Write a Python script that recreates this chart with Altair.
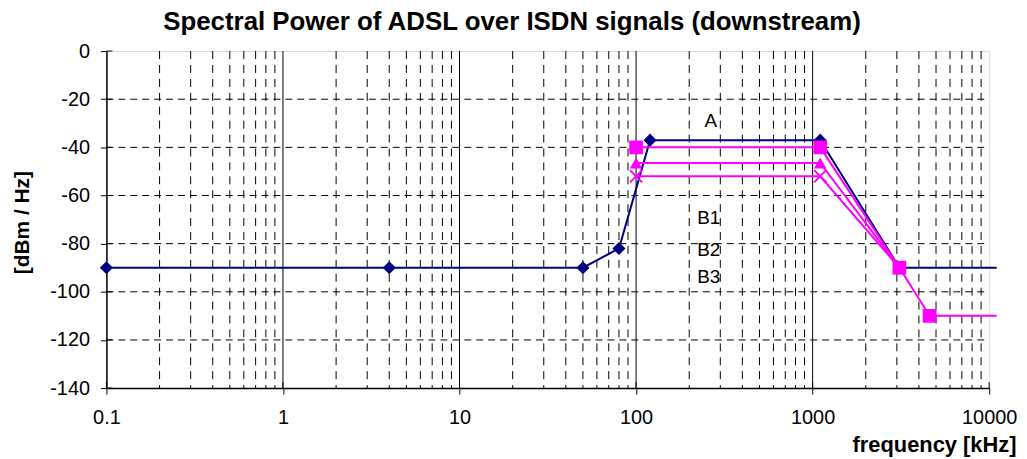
import altair as alt
import pandas as pd

# ---- data ----
freq_A = [0.1, 4, 50, 80, 120, 1104, 3100, 11040]
db_A = [-90, -90, -90, -82, -37, -37, -90, -90]
mark_A = [1, 1, 1, 1, 1, 1, 1, 0]

freq_B1 = [100, 1104, 3100, 4600, 11040]
db_B1 = [-40, -40, -90, -110, -110]
mark_B1 = [1, 1, 1, 1, 0]

freq_B2 = [100, 1104, 3100]
db_B2 = [-46.5, -46.5, -90]
mark_B2 = [1, 1, 1]

freq_B3 = [100, 1104, 3100]
db_B3 = [-52, -52, -90]
mark_B3 = [1, 1, 1]

label_text = ["A", "B1", "B2", "B3"]
label_f = [265, 258, 258, 258]
label_db = [-29, -69.5, -82.5, -94]

x_ticks = [0.1, 1, 10, 100, 1000, 10000]
y_ticks = [0, -20, -40, -60, -80, -100, -120, -140]
h_grid = [-20, -40, -60, -80, -100, -120]
minor_x = [m * 10 ** k for k in range(-1, 4) for m in range(2, 10)]

NAVY = "#000080"
MAG = "#FF00FF"
FONT = "Liberation Sans"
W, H = 888, 339

xs = alt.Scale(type="log", domain=[0.1, 10000], nice=False)
ys = alt.Scale(domain=[-140, 0], nice=False, zero=False)

xaxis = alt.Axis(
    values=x_ticks, labelExpr="'' + datum.value", grid=False, tickSize=6, tickColor="black",
    domainColor="black", domainWidth=1.5, labelFontSize=20, labelPadding=14,
    labelColor="black", labelFont=FONT, labelFlush=False, labelOverlap=False,
    title="frequency [kHz]", titleFont=FONT, titleFontSize=22, titleFontWeight="bold",
    titleAlign="right", titleX=915, titleY=64, titleBaseline="alphabetic",
    titleColor="black",
)
yaxis = alt.Axis(
    values=y_ticks, labelExpr="'' + datum.value", grid=False, tickSize=6, tickColor="black",
    domainColor="black", domainWidth=1.5, labelFontSize=20, labelPadding=11,
    labelColor="black", labelFont=FONT, labelFlush=False, labelOverlap=False,
    title="[dBm / Hz]", titleFont=FONT, titleFontSize=21, titleFontWeight="bold",
    titleX=-84, titleY=172, titleBaseline="middle", titleColor="black",
)

X = alt.X("f:Q", scale=xs, axis=xaxis)
Y = alt.Y("db:Q", scale=ys, axis=yaxis)


def df(f, d, m=None):
    t = pd.DataFrame({"f": f, "db": d})
    if m is not None:
        t["m"] = m
    return t


# grid
hgrid = alt.Chart(pd.DataFrame({"db": h_grid})).mark_rule(
    color="black", strokeWidth=1, strokeDash=[7, 5]
).encode(y=Y, x=alt.value(0), x2=alt.value(W))

vminor = alt.Chart(pd.DataFrame({"f": minor_x})).mark_rule(
    color="black", strokeWidth=1, strokeDash=[8, 6]
).encode(x=X, y=alt.value(0), y2=alt.value(H))

vmajor = alt.Chart(pd.DataFrame({"f": x_ticks[1:-1]})).mark_rule(
    color="black", strokeWidth=1
).encode(x=X, y=alt.value(0), y2=alt.value(H))

# inward tick parts
ytick_in = alt.Chart(pd.DataFrame({"db": y_ticks})).mark_rule(
    color="black", strokeWidth=1
).encode(y=Y, x=alt.value(0), x2=alt.value(6))
xtick_in = alt.Chart(pd.DataFrame({"f": x_ticks})).mark_rule(
    color="black", strokeWidth=1
).encode(x=X, y=alt.value(H), y2=alt.value(H - 6))


def series(f, d, m, color, shape, size, filled=True):
    data = df(f, d, m)
    line = alt.Chart(data).mark_line(color=color, strokeWidth=2).encode(x=X, y=Y)
    pts = alt.Chart(data).transform_filter("datum.m == 1").mark_point(
        shape=shape, size=size, filled=filled, color=color, opacity=1,
        strokeWidth=2,
    ).encode(x=X, y=Y)
    return [line, pts]


layers = [hgrid, vminor, vmajor, ytick_in, xtick_in]
layers += series(freq_A, db_A, mark_A, NAVY, "diamond", 175)
layers += series(freq_B3, db_B3, mark_B3, MAG, "M-1,-1L1,1M-1,1L1,-1", 150, filled=False)
layers += series(freq_B2, db_B2, mark_B2, MAG, "triangle-up", 160)
layers += series(freq_B1, db_B1, mark_B1, MAG, "square", 190)

labels = alt.Chart(pd.DataFrame({"f": label_f, "db": label_db, "t": label_text})).mark_text(
    font=FONT, fontSize=19, color="black", align="center", baseline="middle"
).encode(x=X, y=Y, text="t:N")
layers.append(labels)

chart = alt.layer(*layers).properties(
    width=W, height=H,
    title=alt.TitleParams(
        "Spectral Power of ADSL over ISDN signals (downstream)",
        font=FONT, fontSize=26, fontWeight="bold", color="black",
        anchor="middle", dx=-36, offset=6,
    ),
    autosize=alt.AutoSizeParams(type="none"),
    padding={"left": 99, "top": 42, "right": 30, "bottom": 70},
).configure_view(stroke="#8c8c8c", strokeWidth=1.5).configure(background="white")

chart.save("out.html", embed_options={"renderer": "svg", "actions": False})
